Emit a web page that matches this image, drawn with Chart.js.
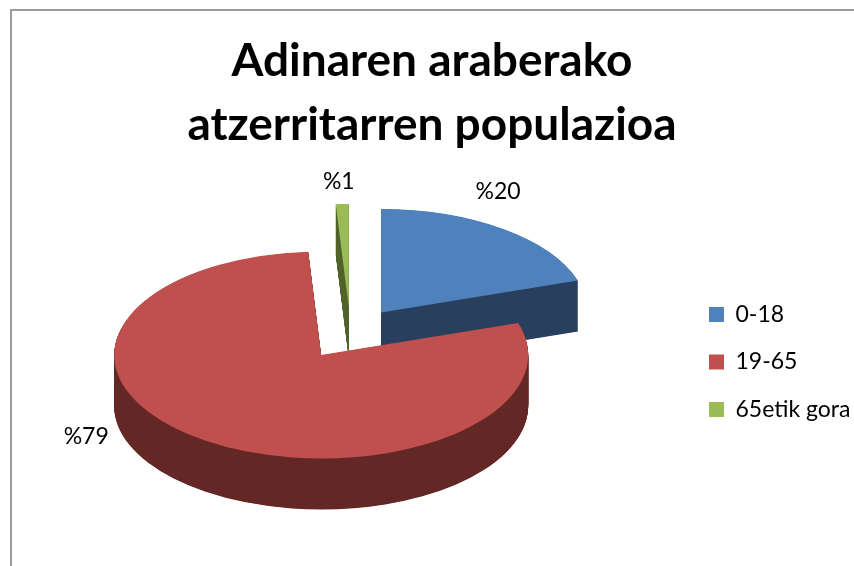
<!DOCTYPE html>
<html><head><meta charset="utf-8">
<style>
html,body{margin:0;padding:0;background:#fff;overflow:hidden}
#wrap{position:absolute;left:0;top:0;width:854px;height:566px}
#frame{position:absolute;left:10px;top:9px;width:860px;height:580px;border:2px solid #9a9a9a;box-sizing:border-box;border-right:none;border-bottom:none}
</style>
<script src="https://cdn.jsdelivr.net/npm/chart.js@4"></script>
</head><body>
<div id="wrap"><div id="frame"></div><canvas id="c" width="854" height="566"></canvas></div>
<script>
const titleLines = ["Adinaren araberako", "atzerritarren populazioa"];
const categories = ["0-18", "19-65", "65etik gora"];
const shares = [20, 79, 1];
const topColors = ["#4F81BD", "#C0504D", "#9BBB59"];
const sideColors = ["#283F5E", "#632726", "#4F6228"];
const paintOrder = [2, 0, 1];
const labelShift = [[117, -121], [-235, 82], [-10, -126]];
const tilt = 0.5, depth = 51, explode = 52, depthStep = 0.5;
const sceneTarget = [350.435, 333.5];
const legendCenterY = 362, legendLeft = 709;

const pie3d = {
  id: "pie3d",
  afterLayout(chart) {
    const lg = chart.legend;
    const mid = (lg.top + lg.bottom) / 2;
    lg.top += (legendCenterY - mid) * 2;
    lg.left = legendLeft - chart.options.plugins.legend.labels.padding;
  },
  beforeDatasetDraw(chart, args) {
    const ctx = chart.ctx, meta = args.meta, area = chart.chartArea;
    const cx = (area.left + area.right) / 2, cy = (area.top + area.bottom) / 2;
    const face = (target, el, dy) => {
      const mid = (el.startAngle + el.endAngle) / 2;
      target.save();
      target.translate(sceneTarget[0], sceneTarget[1] + dy);
      target.scale(1, tilt);
      target.translate(Math.cos(mid) * explode - cx, Math.sin(mid) * explode - cy);
      el.draw(target, area);
      target.restore();
    };
    paintOrder.forEach(i => {
      const el = meta.data[i], base = el.options;
      const layer = document.createElement("canvas");
      layer.width = chart.canvas.width;
      layer.height = chart.canvas.height;
      const lctx = layer.getContext("2d");
      el.options = Object.assign({}, base, {backgroundColor: sideColors[i]});
      for (let d = depth; d > 0; d -= depthStep) face(lctx, el, d);
      lctx.globalCompositeOperation = "source-in";
      lctx.fillStyle = sideColors[i];
      lctx.fillRect(0, 0, layer.width, layer.height);
      ctx.drawImage(layer, 0, 0);
      el.options = base;
      face(ctx, el, 0);
    });
    return false;
  },
  afterDatasetsDraw(chart) {
    const ctx = chart.ctx, meta = chart.getDatasetMeta(0);
    ctx.save();
    ctx.font = "23px Lato";
    ctx.fillStyle = "#000";
    ctx.textAlign = "center";
    ctx.textBaseline = "middle";
    meta.data.forEach((el, i) => {
      const mid = (el.startAngle + el.endAngle) / 2;
      const x = sceneTarget[0] + Math.cos(mid) * explode, y = sceneTarget[1] + Math.sin(mid) * explode * tilt;
      ctx.fillText("%" + shares[i], x + labelShift[i][0], y + labelShift[i][1]);
    });
    ctx.restore();
  }
};

new Chart(document.getElementById("c"), {
  type: "pie",
  data: {
    labels: categories,
    datasets: [{data: shares, backgroundColor: topColors, borderWidth: 0}]
  },
  plugins: [pie3d],
  options: {
    responsive: false,
    animation: false,
    radius: 207,
    layout: {padding: {left: 10, top: 29, right: 0, bottom: 60}},
    plugins: {
      tooltip: {enabled: false},
      title: {
        display: true,
        text: titleLines,
        color: "#000",
        font: {family: "Lato", size: 46, weight: "bold", lineHeight: 1.4},
        padding: {top: 0, bottom: 0}
      },
      legend: {
        position: "right",
        labels: {
          color: "#000",
          font: {family: "Lato", size: 23},
          boxWidth: 15, boxHeight: 15,
          padding: 24.5
        }
      }
    }
  }
});
</script>
</body></html>
